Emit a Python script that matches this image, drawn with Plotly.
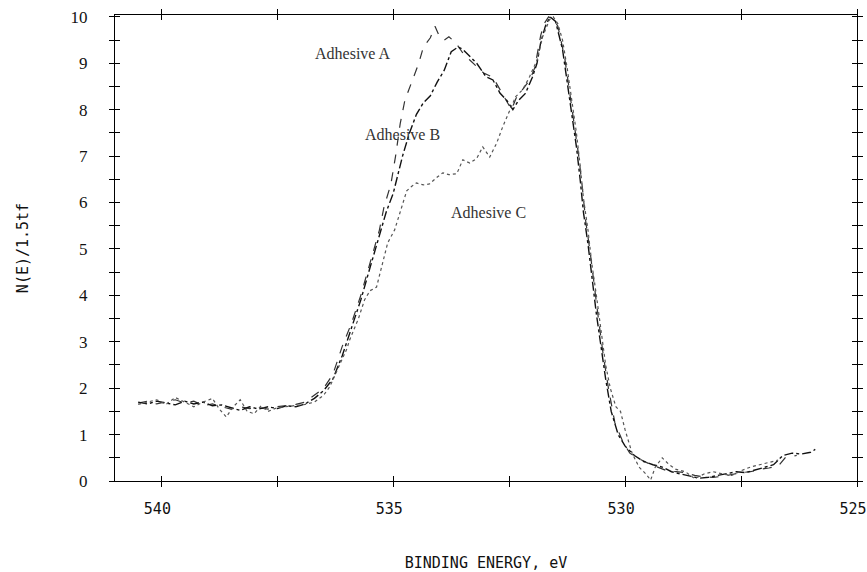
import plotly.graph_objects as go

# ---------------- data ----------------
energy_a = [540.5, 540.3, 540.1, 539.9, 539.7, 539.5, 539.3, 539.1, 538.9, 538.7, 538.5, 538.3, 538.1,
            537.9, 537.7, 537.5, 537.3, 537.1, 536.9, 536.7, 536.5, 536.3, 536.1, 535.9, 535.7, 535.5,
            535.3, 535.2, 535.05, 534.95, 534.85, 534.75, 534.6, 534.45, 534.35, 534.2, 534.1, 534.0,
            533.9, 533.8, 533.65, 533.5, 533.35, 533.2, 533.05, 532.85, 532.7, 532.55, 532.45, 532.35,
            532.2, 532.05, 531.95, 531.88, 531.82, 531.75, 531.65, 531.55, 531.45, 531.3, 531.2, 531.1,
            531.0, 530.92, 530.85, 530.75, 530.67, 530.57, 530.47, 530.36, 530.22, 530.05, 529.9, 529.7,
            529.5, 529.3, 529.1, 528.9, 528.7, 528.5, 528.3, 528.1, 527.9, 527.7, 527.5, 527.3, 527.1,
            526.9, 526.7, 526.55, 526.3]
signal_a = [1.68, 1.72, 1.66, 1.70, 1.75, 1.68, 1.72, 1.62, 1.66, 1.60, 1.55, 1.60, 1.56,
            1.58, 1.55, 1.60, 1.62, 1.65, 1.70, 1.85, 2.0, 2.3, 2.9, 3.4, 4.0, 4.7,
            5.4, 5.9, 6.4, 7.0, 7.7, 8.2, 8.6, 9.0, 9.35, 9.55, 9.8, 9.57,
            9.5, 9.57, 9.44, 9.22, 9.07, 8.92, 8.79, 8.7, 8.43, 8.15, 8.0, 8.25,
            8.45, 8.65, 8.9, 9.25, 9.6, 9.85, 10.0, 9.95, 9.8, 9.1, 8.4, 7.7,
            7.0, 6.3, 5.6, 4.9, 4.2, 3.45, 2.7, 2.0, 1.25, 0.85, 0.6, 0.48,
            0.38, 0.3, 0.22, 0.2, 0.18, 0.12, 0.09, 0.08, 0.1, 0.14, 0.18, 0.2, 0.25,
            0.28, 0.32, 0.5, 0.55]

energy_b = [540.5, 540.3, 540.1, 539.9, 539.7, 539.5, 539.3, 539.1, 538.9, 538.7, 538.5, 538.3, 538.1,
            537.9, 537.7, 537.5, 537.3, 537.1, 536.9, 536.7, 536.5, 536.3, 536.1, 535.9, 535.7, 535.5,
            535.3, 535.15, 535.0, 534.9, 534.8, 534.65, 534.5, 534.35, 534.2, 534.05, 533.9, 533.75,
            533.6, 533.5, 533.35, 533.2, 533.0, 532.85, 532.7, 532.55, 532.42, 532.3, 532.15, 532.0,
            531.9, 531.82, 531.72, 531.62, 531.5, 531.35, 531.25, 531.15, 531.05, 530.97, 530.9, 530.8,
            530.72, 530.62, 530.52, 530.42, 530.3, 530.15, 530.0, 529.8, 529.6, 529.4, 529.2, 529.0,
            528.8, 528.6, 528.4, 528.2, 528.0, 527.8, 527.6, 527.4, 527.2, 527.0, 526.8, 526.6, 526.4,
            526.2, 526.0, 525.9]
signal_b = [1.70, 1.66, 1.72, 1.68, 1.64, 1.72, 1.66, 1.70, 1.62, 1.64, 1.58, 1.52, 1.60,
            1.55, 1.60, 1.56, 1.62, 1.60, 1.66, 1.78, 1.95, 2.2, 2.7, 3.3, 3.9, 4.6,
            5.3, 5.8, 6.2, 6.6, 7.0, 7.5, 7.9, 8.15, 8.3, 8.6, 8.85, 9.25,
            9.35, 9.3, 9.14, 9.0, 8.71, 8.64, 8.36, 8.2, 8.0, 8.2, 8.35, 8.7,
            9.0, 9.45, 9.8, 10.0, 9.9, 9.3, 8.6, 7.9, 7.2, 6.5, 5.8, 5.1,
            4.4, 3.6, 2.9, 2.2, 1.5, 1.0, 0.75, 0.55, 0.42, 0.35, 0.3, 0.2,
            0.15, 0.1, 0.06, 0.08, 0.12, 0.15, 0.2, 0.18, 0.24, 0.3, 0.35, 0.55, 0.6,
            0.58, 0.62, 0.68]

energy_c = [540.5, 540.3, 540.1, 539.9, 539.7, 539.5, 539.3, 539.1, 538.9, 538.75, 538.6, 538.45, 538.3,
            538.15, 538.0, 537.85, 537.7, 537.5, 537.3, 537.1, 536.9, 536.7, 536.5, 536.37, 536.2, 536.0,
            535.94, 535.75, 535.62, 535.5, 535.36, 535.25, 535.12, 534.97, 534.85, 534.71, 534.6, 534.5,
            534.35, 534.22, 534.05, 533.93, 533.8, 533.63, 533.5, 533.35, 533.2, 533.07, 532.92, 532.77,
            532.64, 532.49, 532.36, 532.21, 532.06, 531.9, 531.78, 531.63, 531.55, 531.45, 531.35, 531.25,
            531.15, 531.05, 530.97, 530.9, 530.8, 530.72, 530.62, 530.52, 530.42, 530.32, 530.2, 530.1,
            530.0, 529.85, 529.7, 529.55, 529.45, 529.35, 529.2, 529.05, 528.9, 528.7, 528.5, 528.3,
            528.1, 527.9, 527.7, 527.5, 527.3, 527.1, 526.9, 526.7]
signal_c = [1.65, 1.70, 1.75, 1.65, 1.80, 1.70, 1.60, 1.70, 1.78, 1.55, 1.38, 1.60, 1.75,
            1.50, 1.45, 1.62, 1.50, 1.58, 1.60, 1.62, 1.65, 1.70, 1.85, 2.03, 2.4, 2.85,
            3.04, 3.5, 3.9, 4.1, 4.18, 4.6, 5.13, 5.41, 5.8, 6.25, 6.35, 6.42,
            6.38, 6.4, 6.55, 6.64, 6.6, 6.62, 6.92, 6.85, 6.95, 7.2, 6.98, 7.28,
            7.63, 8.0, 8.28, 8.43, 8.71, 9.07, 9.57, 9.94, 10.0, 9.85, 9.5, 8.9,
            8.2, 7.5, 6.8, 6.1, 5.4, 4.7, 4.0, 3.2, 2.5, 2.0, 1.6, 1.5,
            1.1, 0.6, 0.3, 0.15, 0.02, 0.3, 0.5, 0.35, 0.25, 0.2, 0.05, 0.15,
            0.2, 0.15, 0.12, 0.22, 0.3, 0.35, 0.4, 0.45]

x_tick_vals = [540, 537.5, 535, 532.5, 530, 527.5, 525]
x_tick_text = ["540", "", "535", "", "530", "", "525"]
y_tick_vals = [i * 0.5 for i in range(21)]
y_tick_text = [str(int(v)) if v == int(v) else "" for v in y_tick_vals]

labels = ["Adhesive A", "Adhesive B", "Adhesive C"]
label_x = [535.86, 534.8, 532.94]
label_y = [9.22, 7.46, 5.78]

x_range = [541.0, 525.0]
y_range = [0, 10.04]

# ---------------- figure ----------------
fig = go.Figure()
fig.add_trace(go.Scatter(x=energy_a, y=signal_a, mode="lines", name=labels[0],
                         line=dict(color="#333333", width=1.2, dash="dash")))
fig.add_trace(go.Scatter(x=energy_b, y=signal_b, mode="lines", name=labels[1],
                         line=dict(color="#111111", width=1.4, dash="dashdot")))
fig.add_trace(go.Scatter(x=energy_c, y=signal_c, mode="lines", name=labels[2],
                         xaxis="x2", yaxis="y2",
                         line=dict(color="#555555", width=1.2, dash="dot")))

for t, xv, yv in zip(labels, label_x, label_y):
    fig.add_annotation(x=xv, y=yv, text=t, showarrow=False,
                       font=dict(family="Liberation Serif", size=16, color="#333333"))

tick_font_y = dict(family="Liberation Serif", size=17, color="#111111")
tick_font_x = dict(family="DejaVu Sans Mono", size=15, color="#111111")

fig.update_layout(
    width=867, height=572,
    margin=dict(l=115, r=10, t=15, b=91, autoexpand=False),
    paper_bgcolor="white", plot_bgcolor="white",
    showlegend=False,
    xaxis=dict(range=x_range, tickvals=x_tick_vals, ticktext=x_tick_text,
               ticks="outside", ticklen=5, tickwidth=1, tickcolor="black",
               showline=True, linecolor="black", linewidth=1.3, mirror="allticks",
               showgrid=False, zeroline=False, tickfont=tick_font_x,
               ticklabelstandoff=9, ticklabelshift=4,
               automargin=False, ticklabeloverflow="allow",
               title=dict(text="BINDING ENERGY, eV", standoff=43,
                          font=dict(family="DejaVu Sans Mono", size=15, color="#111111"))),
    yaxis=dict(range=y_range, tickvals=y_tick_vals, ticktext=y_tick_text,
               ticks="outside", ticklen=5, tickwidth=1, tickcolor="black",
               showline=True, linecolor="black", linewidth=1.3, mirror="allticks",
               showgrid=False, zeroline=False, tickfont=tick_font_y,
               ticklabelstandoff=18, automargin=False,
               title=dict(text="N(E)/1.5tf", standoff=38,
                          font=dict(family="DejaVu Sans Mono", size=15, color="#111111"))),
    xaxis2=dict(range=x_range, overlaying="x", tickvals=x_tick_vals,
                ticks="inside", ticklen=5, tickwidth=1, tickcolor="black",
                mirror="allticks", showline=False, showgrid=False, zeroline=False,
                showticklabels=False, automargin=False),
    yaxis2=dict(range=y_range, overlaying="y", tickvals=y_tick_vals,
                ticks="inside", ticklen=5, tickwidth=1, tickcolor="black",
                mirror="allticks", showline=False, showgrid=False, zeroline=False,
                showticklabels=False, automargin=False),
)

fig.write_html("out.html")
